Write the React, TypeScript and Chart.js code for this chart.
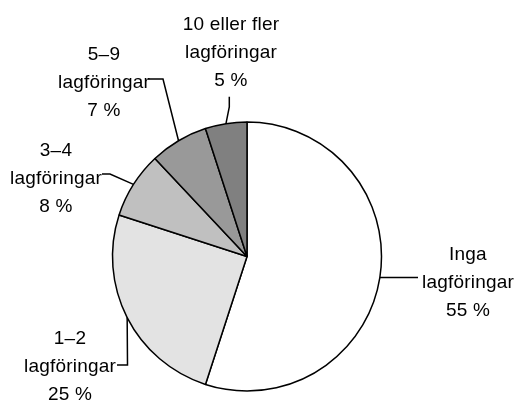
import React, { useEffect, useRef } from "react";
import { Chart, registerables } from "chart.js";

Chart.register(...registerables);

const categories = [
  "Inga lagföringar",
  "1–2 lagföringar",
  "3–4 lagföringar",
  "5–9 lagföringar",
  "10 eller fler lagföringar",
];
const shares = [55, 25, 8, 7, 5];
const sliceColors = ["#ffffff", "#e3e3e3", "#c0c0c0", "#999999", "#808080"];

// Label layout (offsets from pie centre, in px): label centre x, baseline of middle line,
// leader polyline points after the arc midpoint.
const labelLayout = [
  { cx: 221, by: 31.5, pts: [[171, 21]] },
  { cx: -177, by: 115, pts: [[-119.5, 108.5], [-130, 108.5]] },
  { cx: -191, by: -73, pts: [[-137, -82.5], [-145, -82.5]] },
  { cx: -143, by: -169, pts: [[-84, -177.5], [-99, -177.5]] },
  { cx: -16, by: -199, pts: [[-17.7, -149.5], [-17.7, -159.8]] },
];

const labelPlugin = {
  id: "pieLabels",
  afterDatasetsDraw(chart: any) {
    const ctx = chart.ctx as CanvasRenderingContext2D;
    const meta = chart.getDatasetMeta(0);
    const values = chart.data.datasets[0].data as number[];
    const lineH = 28;
    ctx.save();
    meta.data.forEach((arc: any, i: number) => {
      const { x, y, startAngle, endAngle, outerRadius } = arc.getProps(
        ["x", "y", "startAngle", "endAngle", "outerRadius"],
        true
      );
      const mid = (startAngle + endAngle) / 2;
      const px = x + Math.cos(mid) * outerRadius;
      const py = y + Math.sin(mid) * outerRadius;
      const lay = labelLayout[i];
      ctx.strokeStyle = "#000";
      ctx.lineWidth = 1.5;
      ctx.lineJoin = "miter";
      ctx.beginPath();
      ctx.moveTo(px, py);
      lay.pts.forEach(([dx, dy]) => ctx.lineTo(x + dx, y + dy));
      ctx.stroke();

      const name = String(chart.data.labels[i]);
      const cut = name.lastIndexOf(" ");
      const lines = [name.slice(0, cut), name.slice(cut + 1), `${values[i]} %`];
      ctx.fillStyle = "#000";
      ctx.font = '19px "Liberation Sans", Arial, sans-serif';
      (ctx as any).letterSpacing = "0.2px";
      ctx.textAlign = "center";
      ctx.textBaseline = "alphabetic";
      lines.forEach((t, k) => {
        ctx.fillText(t, x + lay.cx, y + lay.by + (k - 1) * lineH);
      });
    });
    ctx.restore();
  },
};

export default function App() {
  const ref = useRef<HTMLCanvasElement>(null);
  useEffect(() => {
    if (!ref.current) return;
    const chart = new Chart(ref.current, {
      type: "pie",
      data: {
        labels: categories,
        datasets: [
          {
            data: shares,
            backgroundColor: sliceColors,
            borderColor: "#000",
            borderWidth: 1.5,
          },
        ],
      },
      options: {
        responsive: false,
        animation: false,
        layout: { padding: { left: 0, right: 24, top: 121.25, bottom: 9.25 } },
        plugins: {
          legend: { display: false },
          tooltip: { enabled: false },
        },
      },
      plugins: [labelPlugin],
    });
    return () => chart.destroy();
  }, []);
  return (
    <div style={{ position: "fixed", left: 0, top: 0, width: 518, height: 401, background: "#fff" }}>
      <canvas ref={ref} width={518} height={401} />
    </div>
  );
}
